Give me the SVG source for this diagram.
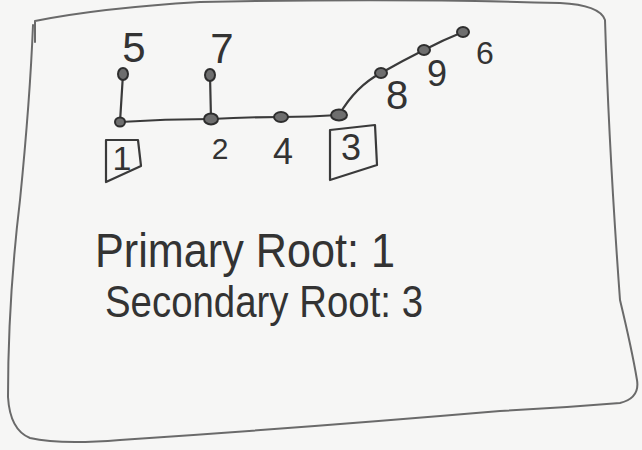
<svg xmlns="http://www.w3.org/2000/svg" width="642" height="450" viewBox="0 0 642 450">
  <style>
    .ink { fill: none; stroke: #3a3a3a; stroke-width: 2.2; stroke-linecap: round; stroke-linejoin: round; }
    .frame { fill: none; stroke: #6a6a6a; stroke-width: 2; stroke-linecap: round; stroke-linejoin: round; }
    .node { fill: #6e6e6e; stroke: #2e2e2e; stroke-width: 2; }
    .lbl { font-family: "Liberation Sans", "DejaVu Sans", sans-serif; fill: #333; text-anchor: middle; }
    .note { font-family: "Liberation Sans", "DejaVu Sans", sans-serif; fill: #333; }
  </style>
  <rect width="642" height="450" fill="#f6f6f5"/>
  <!-- hand-drawn frame -->
  <path class="frame" d="M35,42 L35,21 Q100,8 200,2 Q400,-2 560,3 Q600,5 605,20 Q609,150 620,300 Q632,350 637,380 Q640,398 620,403 Q560,408 500,411 Q300,428 120,440 Q60,445 30,438 Q10,430 8,397 Q8,300 20,200 Q30,100 33,25"/>
  <g id="connectors">
    <path class="ink" d="M120,122 L123,74"/>
    <path class="ink" d="M120,122 Q165,119 211,119"/>
    <path class="ink" d="M211,119 L210,75"/>
    <path class="ink" d="M211,119 Q245,117 281,117"/>
    <path class="ink" d="M281,117 Q310,117 339,115"/>
    <path class="ink" d="M339,115 Q356,86 381,73"/>
    <path class="ink" d="M381,73 Q402,61 424,50"/>
    <path class="ink" d="M424,50 Q443,40 463,32"/>
  </g>
  <g id="node-1">
    <ellipse class="node" cx="120" cy="122" rx="5" ry="4.5"/>
    <path class="ink" d="M106,140 L138,140 L141,166 L106,182 Z"/>
    <text class="lbl" x="122" y="170" font-size="34">1</text>
  </g>
  <g id="node-5">
    <ellipse class="node" cx="123" cy="74" rx="5" ry="6"/>
    <text class="lbl" x="134" y="62" font-size="42">5</text>
  </g>
  <g id="node-2">
    <ellipse class="node" cx="211" cy="119" rx="7" ry="5.5"/>
    <text class="lbl" x="220" y="159" font-size="30">2</text>
  </g>
  <g id="node-7">
    <ellipse class="node" cx="210" cy="75" rx="5" ry="6"/>
    <text class="lbl" x="222" y="63" font-size="42">7</text>
  </g>
  <g id="node-4">
    <ellipse class="node" cx="281" cy="117" rx="7" ry="5"/>
    <text class="lbl" x="283" y="164" font-size="36">4</text>
  </g>
  <g id="node-3">
    <ellipse class="node" cx="339" cy="115" rx="8" ry="5.5"/>
    <path class="ink" d="M330,130 L375,125 L377,165 L330,180 Z"/>
    <text class="lbl" x="351" y="160" font-size="36">3</text>
  </g>
  <g id="node-8">
    <ellipse class="node" cx="381" cy="73" rx="6" ry="5"/>
    <text class="lbl" x="397" y="109" font-size="40">8</text>
  </g>
  <g id="node-9">
    <ellipse class="node" cx="424" cy="50" rx="6" ry="5"/>
    <text class="lbl" x="437" y="86" font-size="36">9</text>
  </g>
  <g id="node-6">
    <ellipse class="node" cx="463" cy="32" rx="6" ry="5"/>
    <text class="lbl" x="485" y="64" font-size="32">6</text>
  </g>
  <text class="note" x="95" y="267" font-size="48" textLength="300" lengthAdjust="spacingAndGlyphs">Primary Root: 1</text>
  <text class="note" x="105" y="317" font-size="44" textLength="318" lengthAdjust="spacingAndGlyphs">Secondary Root: 3</text>
</svg>
